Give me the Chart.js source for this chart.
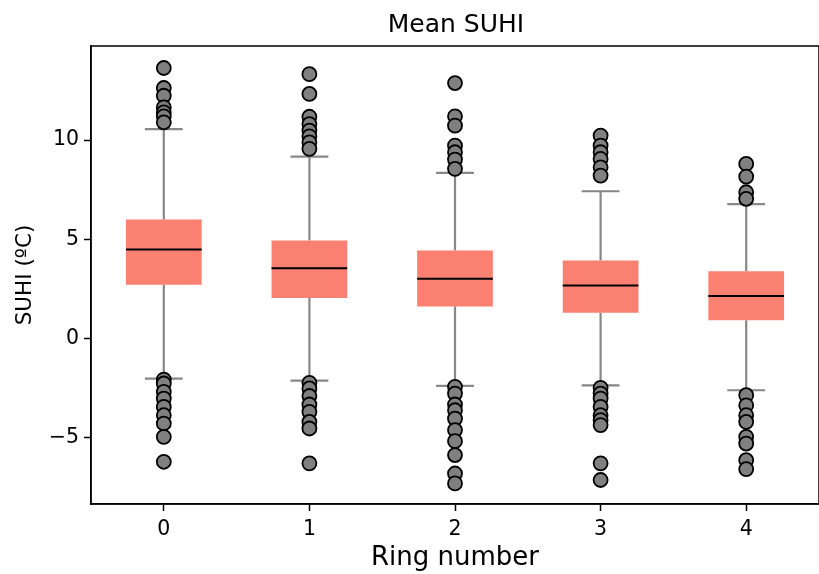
<!DOCTYPE html>
<html>
<head>
<meta charset="utf-8">
<script src="https://cdn.jsdelivr.net/npm/chart.js@4.4.1/dist/chart.umd.min.js"></script>
<style>
    html, body { margin: 0; padding: 0; background: #ffffff; }
    #wrap { width: 819px; height: 574px; }
</style>
</head>
<body>
<div id="wrap"><canvas id="suhiChart" width="819" height="574"></canvas></div>
<script>
// ring categories and box statistics (degrees C)
const rings = ['0', '1', '2', '3', '4'];
const q1 = [2.70, 2.03, 1.61, 1.29, 0.91];
const q3 = [6.00, 4.94, 4.43, 3.93, 3.39];
const medians = [4.48, 3.54, 3.01, 2.67, 2.13];
const whiskerLow = [-2.03, -2.13, -2.40, -2.37, -2.62];
const whiskerHigh = [10.56, 9.17, 8.35, 7.42, 6.77];

// fliers beyond the whiskers, one list per ring
const outliers = [
    [13.64, 12.63, 12.24, 11.65, 11.40, 11.20, 10.90, -2.08, -2.28, -2.70, -3.04, -3.46, -3.88, -4.30, -4.97, -6.23],
    [13.33, 12.33, 11.18, 10.81, 10.48, 10.19, 9.89, 9.56, -2.25, -2.53, -2.91, -3.34, -3.71, -4.22, -4.55, -6.31],
    [12.88, 11.20, 10.73, 9.72, 9.39, 9.02, 8.55, -2.45, -2.79, -3.34, -3.63, -4.05, -4.63, -5.19, -5.89, -6.82, -7.32],
    [10.23, 9.72, 9.39, 9.05, 8.63, 8.21, -2.50, -2.79, -3.04, -3.46, -3.88, -4.13, -4.38, -6.31, -7.15],
    [8.80, 8.16, 7.37, 7.04, -2.87, -3.38, -3.88, -4.22, -4.97, -5.31, -6.15, -6.60]
];

const yTicks = [-5, 0, 5, 10];
const yMin = -8.36;
const yMax = 14.75;
const chartTitle = 'Mean SUHI';

const font = 'DejaVu Sans';

let boxData = rings.map((r, i) => [q1[i], q3[i]]);
let flierData = [];
outliers.forEach((list, i) => {
    list.forEach(v => flierData.push({ x: rings[i], y: v }));
});

// whiskers and caps go under the boxes, medians on top of them
const boxPlotParts = {
    id: 'boxPlotParts',
    beforeDatasetsDraw(chart) {
        const c = chart.ctx;
        const xs = chart.scales.x;
        const ys = chart.scales.y;
        const bars = chart.getDatasetMeta(1).data;
        c.save();
        c.strokeStyle = '#888888';
        c.lineWidth = 2.2;
        rings.forEach((r, i) => {
            let x = xs.getPixelForValue(i);
            let half = bars[i].width / 4;
            let yLo = ys.getPixelForValue(whiskerLow[i]);
            let yHi = ys.getPixelForValue(whiskerHigh[i]);
            c.beginPath();
            c.moveTo(x, ys.getPixelForValue(q1[i]));
            c.lineTo(x, yLo);
            c.moveTo(x, ys.getPixelForValue(q3[i]));
            c.lineTo(x, yHi);
            c.moveTo(x - half, yLo);
            c.lineTo(x + half, yLo);
            c.moveTo(x - half, yHi);
            c.lineTo(x + half, yHi);
            c.stroke();
        });
        c.restore();
    },
    afterDatasetDraw(chart, args) {
        if (args.index !== 1) return;
        const c = chart.ctx;
        const ys = chart.scales.y;
        c.save();
        c.strokeStyle = '#000000';
        c.lineWidth = 2;
        args.meta.data.forEach((bar, i) => {
            let y = ys.getPixelForValue(medians[i]);
            c.beginPath();
            c.moveTo(bar.x - bar.width / 2, y);
            c.lineTo(bar.x + bar.width / 2, y);
            c.stroke();
        });
        c.restore();
    },
    afterDraw(chart) {
        const a = chart.chartArea;
        const c = chart.ctx;
        c.save();
        // frame around the plot area (right side runs past the canvas edge)
        c.strokeStyle = '#000000';
        c.lineWidth = 1.5;
        c.strokeRect(a.left, a.top, a.right - a.left, a.bottom - a.top);
        // title centred over the axes
        c.fillStyle = '#000000';
        c.font = '25px "' + font + '"';
        c.textAlign = 'center';
        c.textBaseline = 'middle';
        c.fillText(chartTitle, (a.left + a.right) / 2 + 1, 25);
        c.restore();
    }
};

new Chart(document.getElementById('suhiChart'), {
    data: {
        labels: rings,
        datasets: [
            {
                type: 'line',
                data: flierData,
                showLine: false,
                pointRadius: 7,
                pointBorderWidth: 1.8,
                pointBackgroundColor: '#808080',
                pointBorderColor: '#000000',
                order: 0
            },
            {
                type: 'bar',
                data: boxData,
                backgroundColor: '#FA8072',
                borderWidth: 0,
                barPercentage: 0.52,
                categoryPercentage: 1,
                order: 1
            }
        ]
    },
    options: {
        responsive: false,
        animation: false,
        events: [],
        layout: {
            autoPadding: false,
            padding: { top: 46, right: -3, bottom: 0, left: 13 }
        },
        plugins: {
            legend: { display: false },
            tooltip: { enabled: false },
            title: { display: false }
        },
        scales: {
            x: {
                type: 'category',
                offset: true,
                grid: {
                    display: true,
                    drawOnChartArea: false,
                    drawTicks: true,
                    tickLength: 7,
                    tickWidth: 1.5,
                    tickColor: '#000000',
                    offset: false
                },
                border: { display: true, color: '#000000', width: 1.5 },
                ticks: {
                    color: '#000000',
                    font: { family: font, size: 20.5 },
                    padding: 6,
                    maxRotation: 0
                },
                title: {
                    display: true,
                    text: 'Ring number',
                    color: '#000000',
                    font: { family: font, size: 26 },
                    padding: { top: 2, bottom: 0 }
                },
                afterFit(scale) {
                    scale.height = 70;
                    scale.paddingLeft = 0;
                    scale.paddingRight = 0;
                }
            },
            y: {
                min: yMin,
                max: yMax,
                grid: {
                    display: true,
                    drawOnChartArea: false,
                    drawTicks: true,
                    tickLength: 7,
                    tickWidth: 1.5,
                    tickColor: '#000000'
                },
                border: { display: true, color: '#000000', width: 1.5 },
                ticks: {
                    color: '#000000',
                    font: { family: font, size: 20.5 },
                    padding: 5,
                    callback: v => String(v).replace('-', '\u2212')
                },
                afterBuildTicks(scale) {
                    scale.ticks = yTicks.map(v => ({ value: v }));
                },
                title: {
                    display: true,
                    text: 'SUHI (ºC)',
                    color: '#000000',
                    font: { family: font, size: 21.5 },
                    padding: { top: 0, bottom: 4 }
                },
                afterFit(scale) { scale.width = 78; }
            }
        }
    },
    plugins: [boxPlotParts]
});
</script>
</body>
</html>
